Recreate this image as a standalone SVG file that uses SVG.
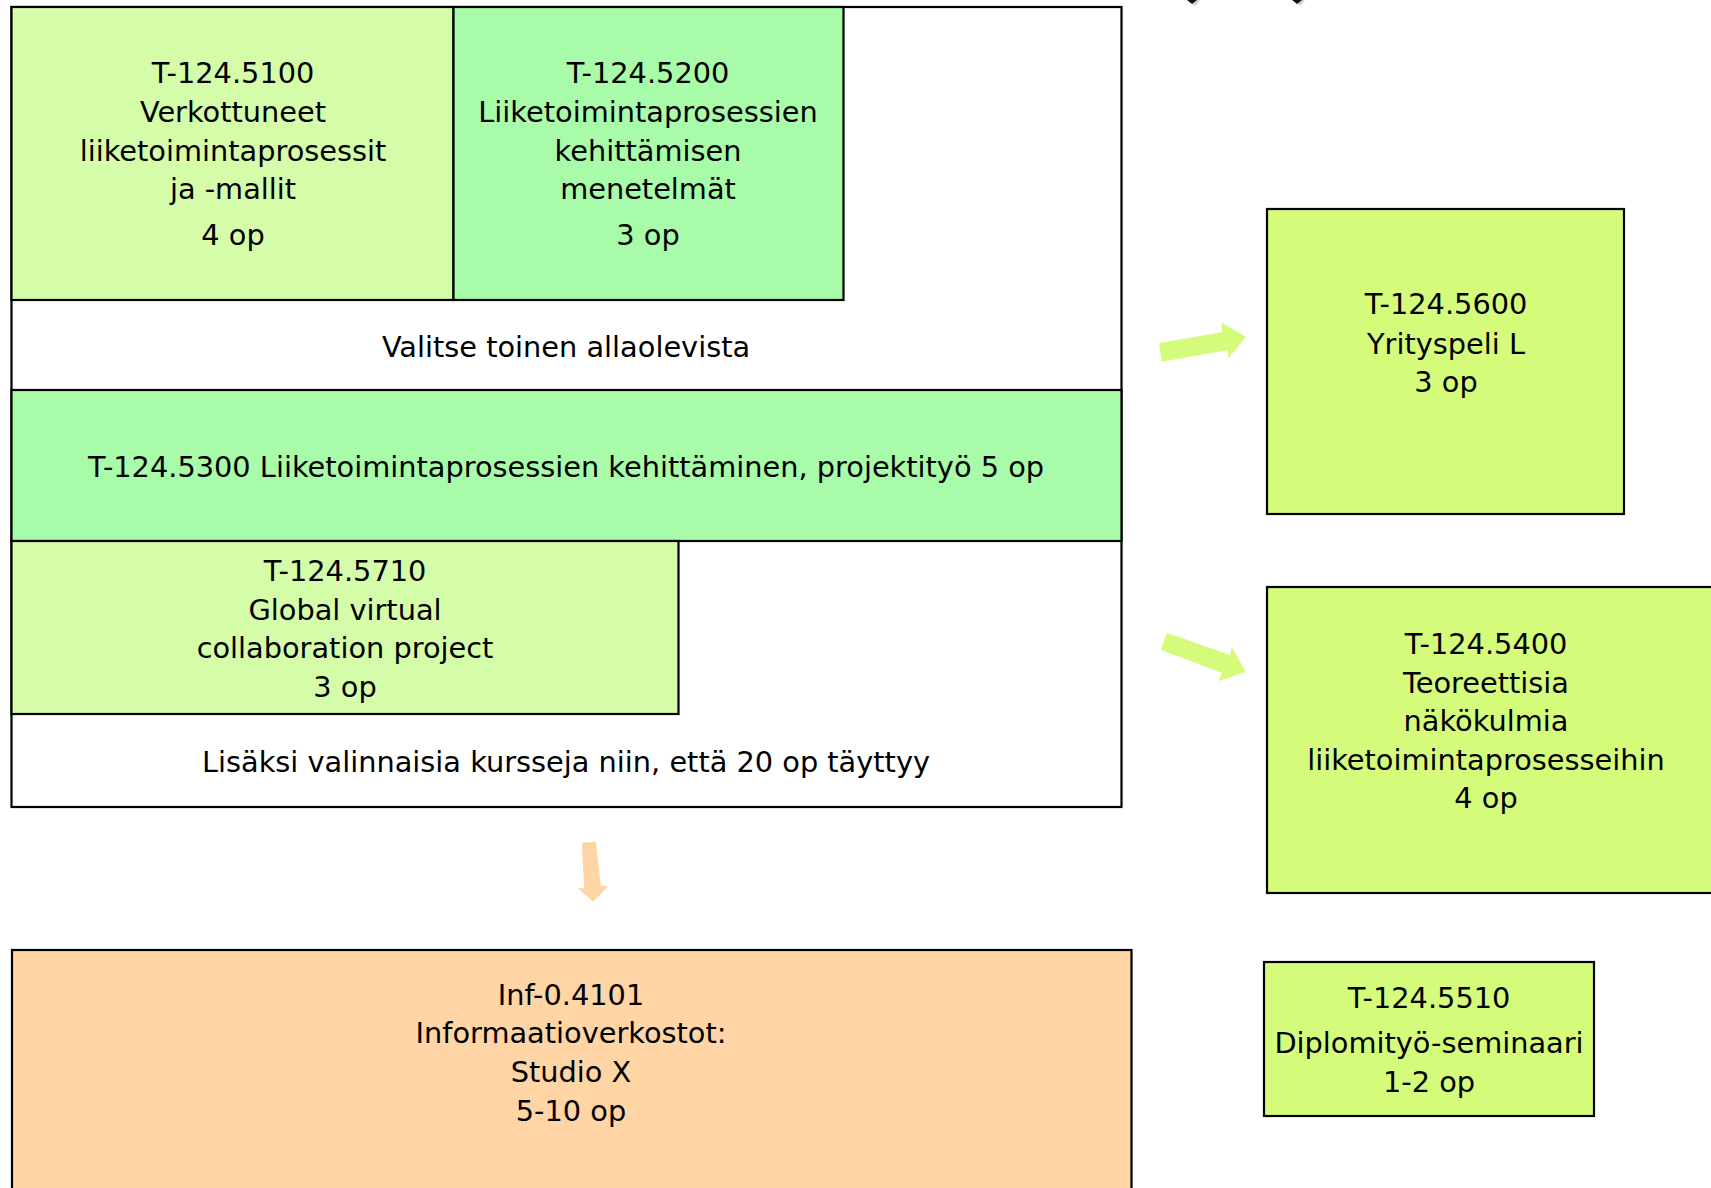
<svg xmlns="http://www.w3.org/2000/svg" width="1711" height="1188" viewBox="0 0 1711 1188">
<style>
text{font-family:"DejaVu Sans","Verdana",sans-serif;font-size:28.8px;fill:#000;text-anchor:middle}
.b{stroke:#000;stroke-width:2.2}
.lg{fill:#d5fca8}
.mg{fill:#a8fba8}
.yg{fill:#d5fb7b}
.or{fill:#ffd5a5}
.wh{fill:#fff}
</style>
<rect width="1711" height="1188" fill="#fff"/>
<g id="outer-frame">
<rect class="b wh" x="11.5" y="7" width="1110" height="800"/>
<line class="b" x1="11.5" y1="390" x2="1121.5" y2="390"/>
</g>
<g id="T-124.5100">
<rect class="b lg" x="11.5" y="7" width="442" height="293"/>
<text x="233" y="83">T-124.5100</text>
<text x="233" y="122">Verkottuneet</text>
<text x="233" y="161">liiketoimintaprosessit</text>
<text x="233" y="199">ja -mallit</text>
<text x="233" y="245">4 op</text>
</g>
<g id="T-124.5200">
<rect class="b mg" x="453.5" y="7" width="390" height="293"/>
<text x="648" y="83">T-124.5200</text>
<text x="648" y="122">Liiketoimintaprosessien</text>
<text x="648" y="161">kehittämisen</text>
<text x="648" y="199">menetelmät</text>
<text x="648" y="245">3 op</text>
</g>
<g id="valitse">
<text x="566" y="357">Valitse toinen allaolevista</text>
</g>
<g id="T-124.5300">
<rect class="b mg" x="11.5" y="390" width="1110" height="151"/>
<text x="566" y="477">T-124.5300 Liiketoimintaprosessien kehittäminen, projektityö 5 op</text>
</g>
<g id="T-124.5710">
<rect class="b lg" x="11.5" y="541" width="667" height="173"/>
<text x="345" y="581">T-124.5710</text>
<text x="345" y="620">Global virtual</text>
<text x="345" y="658">collaboration project</text>
<text x="345" y="697">3 op</text>
</g>
<g id="lisaksi">
<text x="566" y="772">Lisäksi valinnaisia kursseja niin, että 20 op täyttyy</text>
</g>
<g id="Inf-0.4101">
<rect class="b or" x="12" y="950" width="1119.5" height="250"/>
<text x="571" y="1005">Inf-0.4101</text>
<text x="571" y="1043">Informaatioverkostot:</text>
<text x="571" y="1082">Studio X</text>
<text x="571" y="1121">5-10 op</text>
</g>
<g id="T-124.5600">
<rect class="b yg" x="1267" y="209" width="357" height="305"/>
<text x="1446" y="314">T-124.5600</text>
<text x="1446" y="354">Yrityspeli L</text>
<text x="1446" y="392">3 op</text>
</g>
<g id="T-124.5400">
<rect class="b yg" x="1267" y="587" width="460" height="306"/>
<text x="1486" y="654">T-124.5400</text>
<text x="1486" y="693">Teoreettisia</text>
<text x="1486" y="731">näkökulmia</text>
<text x="1486" y="770">liiketoimintaprosesseihin</text>
<text x="1486" y="808">4 op</text>
</g>
<g id="T-124.5510">
<rect class="b yg" x="1264" y="962" width="330" height="154"/>
<text x="1429" y="1008">T-124.5510</text>
<text x="1429" y="1053">Diplomityö-seminaari</text>
<text x="1429" y="1092">1-2 op</text>
</g>
<g id="connectors">
<polygon fill="#d5fb7b" points="1159,343 1222,332.3 1221.7,322.7 1246,336.7 1228,359 1228,350 1161.7,361.7"/>
<polygon fill="#d5fb7b" points="1166.7,632.7 1230,655 1231.7,646.7 1245.7,671.7 1219,681 1221.7,672.7 1161,650"/>
<polygon fill="#ffd5a5" points="581.7,842.7 596,841.7 600.7,886 608.3,886 593.3,901.7 577.7,888.3 584.3,888.3"/>
<polygon fill="#d0d0d0" points="1189,0 1200,0 1195,6"/>
<polygon fill="#111" points="1187,0 1197,0 1192,4"/>
<polygon fill="#d0d0d0" points="1294,0 1305,0 1300,6"/>
<polygon fill="#111" points="1292,0 1302,0 1297,4"/>
</g>
</svg>
